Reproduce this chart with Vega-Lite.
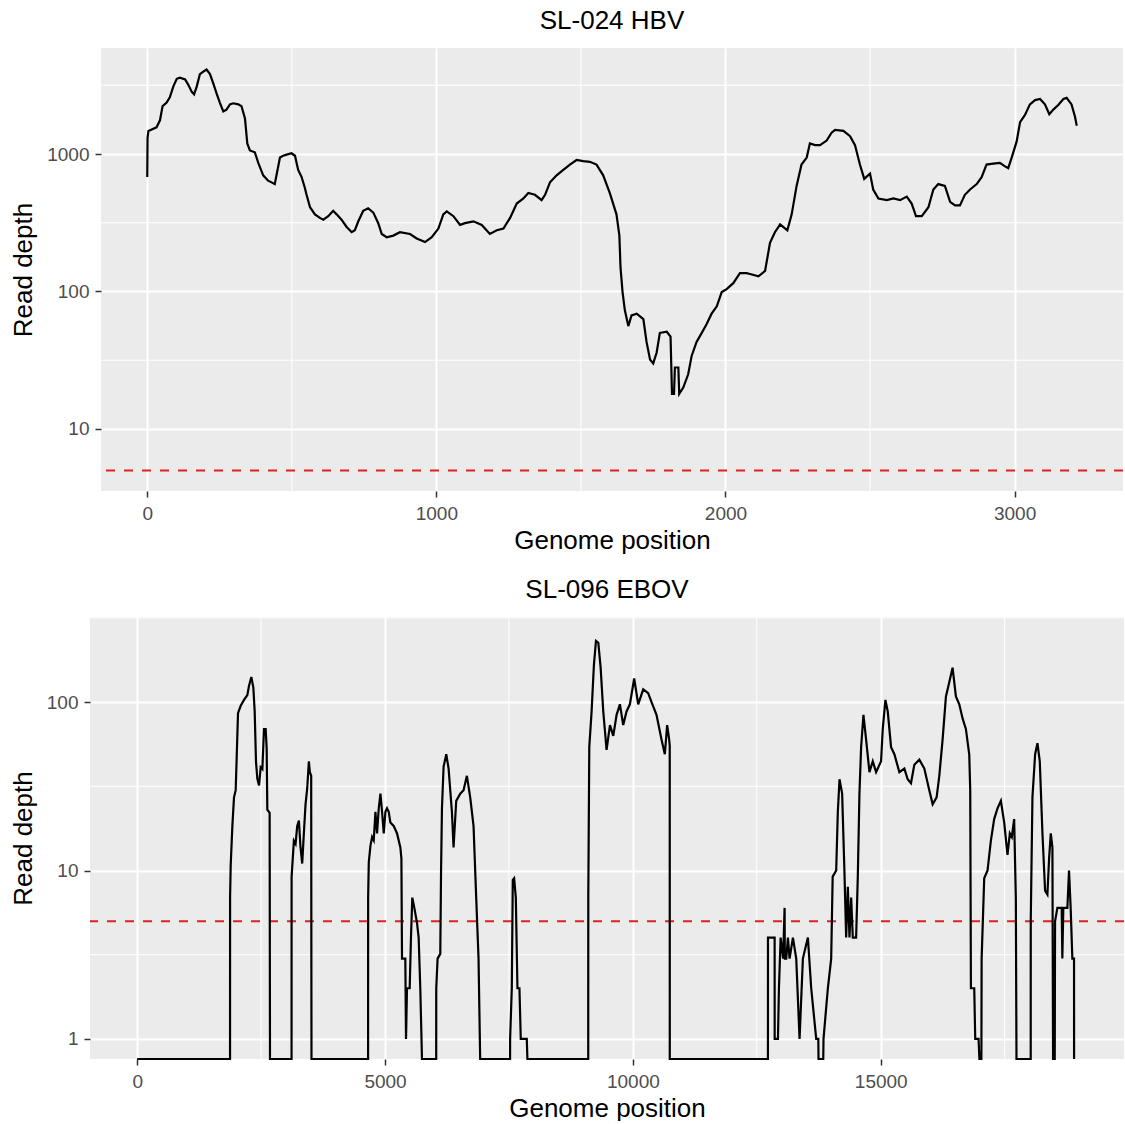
{
  "$schema": "https://vega.github.io/schema/vega-lite/v6.json",
  "padding": {"left": 9, "top": 7, "right": 0, "bottom": 0},
  "background": "#ffffff",
  "spacing": 23,
  "vconcat": [
    {
      "spacing": 0,
      "hconcat": [
        {"width": 1, "height": 1, "data": {"values": []}, "mark": "point"},
        {
          "width": 1022,
          "height": 443,
          "title": {"text": "SL-024 HBV"},
          "view": {"fill": "#ebebeb", "stroke": null},
          "layer": [
            {
              "data": {"values": [{"m": 500}, {"m": 1500}, {"m": 2500}]},
              "mark": {"type": "rule", "color": "#ffffff", "strokeWidth": 1},
              "encoding": {"x": {"field": "m", "type": "quantitative", "scale": {"domain": [-160, 3375], "nice": false, "zero": false}, "axis": {"values": [0, 1000, 2000, 3000], "format": "d", "title": "Genome position"}}}
            },
            {
              "data": {"values": [{"m": 31.62}, {"m": 316.2}, {"m": 3162}]},
              "mark": {"type": "rule", "color": "#ffffff", "strokeWidth": 1},
              "encoding": {"y": {"field": "m", "type": "quantitative", "scale": {"type": "log", "domain": [3.54, 5902], "nice": false, "clamp": true}, "axis": {"values": [10, 100, 1000], "format": "d", "title": "Read depth"}}}
            },
            {
              "data": {"values": [{"threshold": 5}]},
              "mark": {"type": "rule", "color": "#dd2222", "strokeWidth": 2, "strokeDash": [9, 9]},
              "encoding": {"y": {"field": "threshold", "type": "quantitative", "scale": {"type": "log", "domain": [3.54, 5902], "nice": false, "clamp": true}, "axis": {"values": [10, 100, 1000], "format": "d", "title": "Read depth"}}}
            },
            {
              "data": {"values": [
                {"pos": 0, "depth": 680}, {"pos": 1, "depth": 1306}, {"pos": 4, "depth": 1472}, {"pos": 32, "depth": 1563}, {"pos": 44, "depth": 1758}, {"pos": 53, "depth": 2228}, {"pos": 67, "depth": 2366}, {"pos": 78, "depth": 2588}, {"pos": 90, "depth": 3090}, {"pos": 102, "depth": 3524}, {"pos": 113, "depth": 3589}, {"pos": 131, "depth": 3483}, {"pos": 142, "depth": 3184}, {"pos": 154, "depth": 2831}, {"pos": 162, "depth": 2716}, {"pos": 171, "depth": 3090}, {"pos": 182, "depth": 3811}, {"pos": 194, "depth": 3972}, {"pos": 205, "depth": 4111}, {"pos": 217, "depth": 3811}, {"pos": 228, "depth": 3281}, {"pos": 240, "depth": 2748}, {"pos": 251, "depth": 2366}, {"pos": 263, "depth": 2042}, {"pos": 274, "depth": 2104}, {"pos": 286, "depth": 2296}, {"pos": 297, "depth": 2339}, {"pos": 315, "depth": 2296}, {"pos": 326, "depth": 2228}, {"pos": 338, "depth": 1811}, {"pos": 346, "depth": 1194}, {"pos": 355, "depth": 1062}, {"pos": 372, "depth": 1030}, {"pos": 384, "depth": 861}, {"pos": 401, "depth": 700}, {"pos": 418, "depth": 640}, {"pos": 430, "depth": 622}, {"pos": 441, "depth": 604}, {"pos": 447, "depth": 700}, {"pos": 459, "depth": 942}, {"pos": 470, "depth": 971}, {"pos": 482, "depth": 989}, {"pos": 499, "depth": 1012}, {"pos": 511, "depth": 971}, {"pos": 522, "depth": 766}, {"pos": 534, "depth": 679}, {"pos": 545, "depth": 569}, {"pos": 551, "depth": 505}, {"pos": 563, "depth": 410}, {"pos": 580, "depth": 364}, {"pos": 597, "depth": 343}, {"pos": 609, "depth": 333}, {"pos": 626, "depth": 353}, {"pos": 643, "depth": 386}, {"pos": 655, "depth": 364}, {"pos": 672, "depth": 333}, {"pos": 689, "depth": 296}, {"pos": 707, "depth": 270}, {"pos": 718, "depth": 279}, {"pos": 730, "depth": 324}, {"pos": 747, "depth": 386}, {"pos": 764, "depth": 403}, {"pos": 782, "depth": 375}, {"pos": 799, "depth": 314}, {"pos": 811, "depth": 262}, {"pos": 828, "depth": 248}, {"pos": 851, "depth": 255}, {"pos": 874, "depth": 270}, {"pos": 909, "depth": 262}, {"pos": 932, "depth": 243}, {"pos": 961, "depth": 229}, {"pos": 984, "depth": 248}, {"pos": 1007, "depth": 287}, {"pos": 1024, "depth": 364}, {"pos": 1036, "depth": 382}, {"pos": 1059, "depth": 353}, {"pos": 1082, "depth": 305}, {"pos": 1099, "depth": 314}, {"pos": 1128, "depth": 324}, {"pos": 1157, "depth": 305}, {"pos": 1185, "depth": 262}, {"pos": 1209, "depth": 279}, {"pos": 1232, "depth": 287}, {"pos": 1255, "depth": 343}, {"pos": 1278, "depth": 436}, {"pos": 1301, "depth": 475}, {"pos": 1318, "depth": 520}, {"pos": 1341, "depth": 505}, {"pos": 1364, "depth": 462}, {"pos": 1376, "depth": 505}, {"pos": 1393, "depth": 622}, {"pos": 1416, "depth": 700}, {"pos": 1439, "depth": 766}, {"pos": 1462, "depth": 838}, {"pos": 1485, "depth": 904}, {"pos": 1508, "depth": 887}, {"pos": 1531, "depth": 877}, {"pos": 1554, "depth": 838}, {"pos": 1577, "depth": 700}, {"pos": 1600, "depth": 520}, {"pos": 1623, "depth": 364}, {"pos": 1633, "depth": 255}, {"pos": 1637, "depth": 149}, {"pos": 1644, "depth": 99}, {"pos": 1652, "depth": 73}, {"pos": 1664, "depth": 56}, {"pos": 1675, "depth": 67}, {"pos": 1693, "depth": 69}, {"pos": 1716, "depth": 63}, {"pos": 1727, "depth": 43}, {"pos": 1739, "depth": 32}, {"pos": 1750, "depth": 30}, {"pos": 1762, "depth": 36}, {"pos": 1773, "depth": 50}, {"pos": 1797, "depth": 51}, {"pos": 1810, "depth": 47}, {"pos": 1815, "depth": 18}, {"pos": 1822, "depth": 18}, {"pos": 1825, "depth": 28}, {"pos": 1837, "depth": 28}, {"pos": 1840, "depth": 18}, {"pos": 1854, "depth": 20}, {"pos": 1871, "depth": 25}, {"pos": 1883, "depth": 34}, {"pos": 1900, "depth": 43}, {"pos": 1918, "depth": 50}, {"pos": 1935, "depth": 58}, {"pos": 1952, "depth": 69}, {"pos": 1970, "depth": 78}, {"pos": 1987, "depth": 99}, {"pos": 2004, "depth": 104}, {"pos": 2027, "depth": 115}, {"pos": 2050, "depth": 136}, {"pos": 2073, "depth": 136}, {"pos": 2085, "depth": 134}, {"pos": 2114, "depth": 129}, {"pos": 2137, "depth": 141}, {"pos": 2154, "depth": 226}, {"pos": 2171, "depth": 270}, {"pos": 2189, "depth": 308}, {"pos": 2214, "depth": 279}, {"pos": 2229, "depth": 364}, {"pos": 2246, "depth": 586}, {"pos": 2263, "depth": 838}, {"pos": 2281, "depth": 942}, {"pos": 2292, "depth": 1194}, {"pos": 2310, "depth": 1161}, {"pos": 2327, "depth": 1161}, {"pos": 2350, "depth": 1253}, {"pos": 2367, "depth": 1429}, {"pos": 2379, "depth": 1496}, {"pos": 2408, "depth": 1472}, {"pos": 2431, "depth": 1346}, {"pos": 2448, "depth": 1161}, {"pos": 2465, "depth": 838}, {"pos": 2480, "depth": 659}, {"pos": 2500, "depth": 721}, {"pos": 2511, "depth": 552}, {"pos": 2529, "depth": 475}, {"pos": 2558, "depth": 462}, {"pos": 2581, "depth": 475}, {"pos": 2604, "depth": 462}, {"pos": 2627, "depth": 490}, {"pos": 2644, "depth": 436}, {"pos": 2659, "depth": 353}, {"pos": 2679, "depth": 353}, {"pos": 2702, "depth": 410}, {"pos": 2719, "depth": 552}, {"pos": 2736, "depth": 604}, {"pos": 2759, "depth": 586}, {"pos": 2777, "depth": 449}, {"pos": 2794, "depth": 423}, {"pos": 2811, "depth": 423}, {"pos": 2828, "depth": 505}, {"pos": 2846, "depth": 552}, {"pos": 2869, "depth": 604}, {"pos": 2886, "depth": 679}, {"pos": 2903, "depth": 838}, {"pos": 2926, "depth": 851}, {"pos": 2949, "depth": 861}, {"pos": 2967, "depth": 813}, {"pos": 2978, "depth": 789}, {"pos": 2990, "depth": 942}, {"pos": 3007, "depth": 1230}, {"pos": 3019, "depth": 1706}, {"pos": 3036, "depth": 1923}, {"pos": 3053, "depth": 2296}, {"pos": 3071, "depth": 2466}, {"pos": 3088, "depth": 2512}, {"pos": 3105, "depth": 2296}, {"pos": 3120, "depth": 1945}, {"pos": 3134, "depth": 2104}, {"pos": 3151, "depth": 2270}, {"pos": 3169, "depth": 2512}, {"pos": 3180, "depth": 2559}, {"pos": 3197, "depth": 2296}, {"pos": 3209, "depth": 1866}, {"pos": 3215, "depth": 1607}
              ]},
              "mark": {"type": "line", "color": "#000000", "strokeWidth": 2.2},
              "encoding": {
                "x": {"field": "pos", "type": "quantitative", "scale": {"domain": [-160, 3375], "nice": false, "zero": false}, "axis": {"values": [0, 1000, 2000, 3000], "format": "d", "title": "Genome position"}},
                "y": {"field": "depth", "type": "quantitative", "scale": {"type": "log", "domain": [3.54, 5902], "nice": false, "clamp": true}, "axis": {"values": [10, 100, 1000], "format": "d", "title": "Read depth"}}
              }
            }
          ]
        }
      ]
    },
    {
      "spacing": 0,
      "hconcat": [
        {"width": 1, "height": 1, "data": {"values": []}, "mark": "point"},
        {
          "width": 1034,
          "height": 442,
          "title": {"text": "SL-096 EBOV"},
          "view": {"fill": "#ebebeb", "stroke": null},
          "layer": [
            {
              "data": {"values": [{"m": 2500}, {"m": 7500}, {"m": 12500}, {"m": 17500}]},
              "mark": {"type": "rule", "color": "#ffffff", "strokeWidth": 1},
              "encoding": {"x": {"field": "m", "type": "quantitative", "scale": {"domain": [-952, 19907], "nice": false, "zero": false}, "axis": {"values": [0, 5000, 10000, 15000], "format": "d", "title": "Genome position"}}}
            },
            {
              "data": {"values": [{"m": 3.162}, {"m": 31.62}, {"m": 316.2}]},
              "mark": {"type": "rule", "color": "#ffffff", "strokeWidth": 1},
              "encoding": {"y": {"field": "m", "type": "quantitative", "scale": {"type": "log", "domain": [0.7604, 319.9], "nice": false, "clamp": true}, "axis": {"values": [1, 10, 100], "format": "d", "title": "Read depth"}}}
            },
            {
              "data": {"values": [{"threshold": 5}]},
              "mark": {"type": "rule", "color": "#dd2222", "strokeWidth": 2, "strokeDash": [9, 9]},
              "encoding": {"y": {"field": "threshold", "type": "quantitative", "scale": {"type": "log", "domain": [0.7604, 319.9], "nice": false, "clamp": true}, "axis": {"values": [1, 10, 100], "format": "d", "title": "Read depth"}}}
            },
            {
              "data": {"values": [
                {"pos": 0, "depth": 0}, {"pos": 1873, "depth": 0}, {"pos": 1874, "depth": 6.9}, {"pos": 1886, "depth": 10.7}, {"pos": 1920, "depth": 18.4}, {"pos": 1953, "depth": 27.2}, {"pos": 1987, "depth": 30}, {"pos": 2010, "depth": 50}, {"pos": 2034, "depth": 86}, {"pos": 2088, "depth": 95}, {"pos": 2155, "depth": 103}, {"pos": 2222, "depth": 110}, {"pos": 2256, "depth": 125}, {"pos": 2303, "depth": 141}, {"pos": 2343, "depth": 122}, {"pos": 2370, "depth": 88}, {"pos": 2397, "depth": 44}, {"pos": 2424, "depth": 35}, {"pos": 2458, "depth": 32}, {"pos": 2491, "depth": 41}, {"pos": 2525, "depth": 40}, {"pos": 2558, "depth": 69}, {"pos": 2592, "depth": 69}, {"pos": 2612, "depth": 53}, {"pos": 2625, "depth": 23}, {"pos": 2672, "depth": 22}, {"pos": 2679, "depth": 0},
                {"pos": 3114, "depth": 0}, {"pos": 3115, "depth": 9.2}, {"pos": 3161, "depth": 15}, {"pos": 3195, "depth": 14.4}, {"pos": 3228, "depth": 18.4}, {"pos": 3262, "depth": 19.8}, {"pos": 3295, "depth": 13.7}, {"pos": 3329, "depth": 11}, {"pos": 3362, "depth": 16.6}, {"pos": 3396, "depth": 24.7}, {"pos": 3430, "depth": 30.8}, {"pos": 3463, "depth": 44.5}, {"pos": 3483, "depth": 38.4}, {"pos": 3510, "depth": 36.5}, {"pos": 3516, "depth": 0},
                {"pos": 4658, "depth": 0}, {"pos": 4659, "depth": 6.9}, {"pos": 4672, "depth": 11.2}, {"pos": 4705, "depth": 14}, {"pos": 4739, "depth": 15.8}, {"pos": 4772, "depth": 15.1}, {"pos": 4806, "depth": 22.3}, {"pos": 4839, "depth": 16.6}, {"pos": 4873, "depth": 23.4}, {"pos": 4907, "depth": 28.6}, {"pos": 4940, "depth": 22.3}, {"pos": 4974, "depth": 16.6}, {"pos": 5007, "depth": 22.3}, {"pos": 5040, "depth": 23.4}, {"pos": 5074, "depth": 22.3}, {"pos": 5107, "depth": 19.3}, {"pos": 5174, "depth": 18.4}, {"pos": 5242, "depth": 16.6}, {"pos": 5309, "depth": 13.7}, {"pos": 5330, "depth": 11.8}, {"pos": 5342, "depth": 3}, {"pos": 5409, "depth": 3}, {"pos": 5423, "depth": 1}, {"pos": 5443, "depth": 2}, {"pos": 5497, "depth": 2}, {"pos": 5523, "depth": 4}, {"pos": 5550, "depth": 6.9}, {"pos": 5591, "depth": 6}, {"pos": 5644, "depth": 4.9}, {"pos": 5678, "depth": 4}, {"pos": 5711, "depth": 2}, {"pos": 5745, "depth": 0},
                {"pos": 6032, "depth": 0}, {"pos": 6033, "depth": 2}, {"pos": 6060, "depth": 3}, {"pos": 6114, "depth": 3.2}, {"pos": 6130, "depth": 10}, {"pos": 6148, "depth": 23.4}, {"pos": 6181, "depth": 41.3}, {"pos": 6235, "depth": 49}, {"pos": 6282, "depth": 40.3}, {"pos": 6349, "depth": 22.3}, {"pos": 6382, "depth": 13.7}, {"pos": 6436, "depth": 25.9}, {"pos": 6517, "depth": 28.6}, {"pos": 6584, "depth": 30}, {"pos": 6651, "depth": 36.5}, {"pos": 6718, "depth": 27.2}, {"pos": 6785, "depth": 18.4}, {"pos": 6839, "depth": 6.9}, {"pos": 6886, "depth": 3}, {"pos": 6919, "depth": 0},
                {"pos": 7522, "depth": 0}, {"pos": 7523, "depth": 1}, {"pos": 7557, "depth": 2}, {"pos": 7577, "depth": 8.8}, {"pos": 7604, "depth": 9}, {"pos": 7638, "depth": 6.9}, {"pos": 7671, "depth": 2}, {"pos": 7711, "depth": 2}, {"pos": 7738, "depth": 1}, {"pos": 7859, "depth": 1}, {"pos": 7872, "depth": 0},
                {"pos": 9099, "depth": 0}, {"pos": 9100, "depth": 6.9}, {"pos": 9120, "depth": 54}, {"pos": 9167, "depth": 88}, {"pos": 9214, "depth": 167}, {"pos": 9255, "depth": 231}, {"pos": 9302, "depth": 225}, {"pos": 9349, "depth": 160}, {"pos": 9402, "depth": 88}, {"pos": 9469, "depth": 52}, {"pos": 9537, "depth": 73}, {"pos": 9604, "depth": 63}, {"pos": 9671, "depth": 84}, {"pos": 9738, "depth": 97}, {"pos": 9805, "depth": 73}, {"pos": 9872, "depth": 88}, {"pos": 9939, "depth": 97}, {"pos": 10026, "depth": 138}, {"pos": 10107, "depth": 97}, {"pos": 10208, "depth": 119}, {"pos": 10308, "depth": 113}, {"pos": 10376, "depth": 100}, {"pos": 10476, "depth": 84}, {"pos": 10577, "depth": 60}, {"pos": 10644, "depth": 49}, {"pos": 10691, "depth": 73}, {"pos": 10731, "depth": 60}, {"pos": 10743, "depth": 55}, {"pos": 10744, "depth": 0},
                {"pos": 12724, "depth": 0}, {"pos": 12725, "depth": 4}, {"pos": 12859, "depth": 4}, {"pos": 12860, "depth": 1}, {"pos": 12926, "depth": 1}, {"pos": 12946, "depth": 2}, {"pos": 12980, "depth": 4}, {"pos": 13030, "depth": 3}, {"pos": 13060, "depth": 6}, {"pos": 13065, "depth": 3}, {"pos": 13094, "depth": 3}, {"pos": 13127, "depth": 4}, {"pos": 13161, "depth": 3}, {"pos": 13228, "depth": 4}, {"pos": 13295, "depth": 3}, {"pos": 13362, "depth": 1}, {"pos": 13429, "depth": 3}, {"pos": 13530, "depth": 4}, {"pos": 13597, "depth": 2}, {"pos": 13698, "depth": 1}, {"pos": 13740, "depth": 1}, {"pos": 13745, "depth": 0}, {"pos": 13840, "depth": 0}, {"pos": 13845, "depth": 1}, {"pos": 13933, "depth": 2}, {"pos": 14000, "depth": 3}, {"pos": 14030, "depth": 9.2}, {"pos": 14101, "depth": 10}, {"pos": 14134, "depth": 22.3}, {"pos": 14168, "depth": 34.8}, {"pos": 14221, "depth": 28.6}, {"pos": 14268, "depth": 9.7}, {"pos": 14302, "depth": 4}, {"pos": 14336, "depth": 8}, {"pos": 14369, "depth": 4}, {"pos": 14403, "depth": 6.9}, {"pos": 14436, "depth": 4}, {"pos": 14503, "depth": 4}, {"pos": 14537, "depth": 9.2}, {"pos": 14570, "depth": 28.6}, {"pos": 14604, "depth": 54}, {"pos": 14651, "depth": 84}, {"pos": 14704, "depth": 60}, {"pos": 14772, "depth": 38.4}, {"pos": 14839, "depth": 44.5}, {"pos": 14906, "depth": 38.4}, {"pos": 15006, "depth": 44.5}, {"pos": 15040, "depth": 69}, {"pos": 15094, "depth": 103}, {"pos": 15141, "depth": 88}, {"pos": 15208, "depth": 54}, {"pos": 15275, "depth": 49}, {"pos": 15375, "depth": 38.4}, {"pos": 15476, "depth": 40.3}, {"pos": 15543, "depth": 34.8}, {"pos": 15610, "depth": 33}, {"pos": 15677, "depth": 42.4}, {"pos": 15778, "depth": 45.5}, {"pos": 15879, "depth": 40.3}, {"pos": 15979, "depth": 30}, {"pos": 16047, "depth": 24.7}, {"pos": 16127, "depth": 27.2}, {"pos": 16181, "depth": 36.5}, {"pos": 16248, "depth": 60}, {"pos": 16315, "depth": 108}, {"pos": 16382, "depth": 131}, {"pos": 16449, "depth": 160}, {"pos": 16516, "depth": 108}, {"pos": 16584, "depth": 97}, {"pos": 16651, "depth": 80}, {"pos": 16718, "depth": 69}, {"pos": 16785, "depth": 49}, {"pos": 16805, "depth": 30}, {"pos": 16819, "depth": 2}, {"pos": 16886, "depth": 2}, {"pos": 16906, "depth": 1}, {"pos": 16973, "depth": 1}, {"pos": 16990, "depth": 0}, {"pos": 17030, "depth": 0}, {"pos": 17035, "depth": 3}, {"pos": 17087, "depth": 9}, {"pos": 17154, "depth": 10}, {"pos": 17221, "depth": 15}, {"pos": 17288, "depth": 20.2}, {"pos": 17355, "depth": 23.4}, {"pos": 17423, "depth": 25.9}, {"pos": 17490, "depth": 19.3}, {"pos": 17557, "depth": 12.4}, {"pos": 17604, "depth": 16.6}, {"pos": 17644, "depth": 15.8}, {"pos": 17691, "depth": 20.2}, {"pos": 17725, "depth": 6.9}, {"pos": 17738, "depth": 0},
                {"pos": 18025, "depth": 0}, {"pos": 18026, "depth": 5.1}, {"pos": 18060, "depth": 27.2}, {"pos": 18114, "depth": 49}, {"pos": 18161, "depth": 57}, {"pos": 18208, "depth": 44.5}, {"pos": 18262, "depth": 16.6}, {"pos": 18315, "depth": 7.6}, {"pos": 18362, "depth": 7.2}, {"pos": 18396, "depth": 11.8}, {"pos": 18430, "depth": 16.6}, {"pos": 18463, "depth": 13.7}, {"pos": 18476, "depth": 0}, {"pos": 18510, "depth": 0}, {"pos": 18516, "depth": 5}, {"pos": 18563, "depth": 6}, {"pos": 18650, "depth": 6}, {"pos": 18663, "depth": 3}, {"pos": 18683, "depth": 6}, {"pos": 18765, "depth": 6}, {"pos": 18798, "depth": 10}, {"pos": 18831, "depth": 6}, {"pos": 18865, "depth": 3}, {"pos": 18899, "depth": 3}, {"pos": 18900, "depth": 0}
              ]},
              "mark": {"type": "line", "color": "#000000", "strokeWidth": 2.2, "invalid": "show"},
              "encoding": {
                "x": {"field": "pos", "type": "quantitative", "scale": {"domain": [-952, 19907], "nice": false, "zero": false}, "axis": {"values": [0, 5000, 10000, 15000], "format": "d", "title": "Genome position"}},
                "y": {"field": "depth", "type": "quantitative", "scale": {"type": "log", "domain": [0.7604, 319.9], "nice": false, "clamp": true}, "axis": {"values": [1, 10, 100], "format": "d", "title": "Read depth"}}
              }
            }
          ]
        }
      ]
    }
  ],
  "config": {
    "view": {"stroke": null},
    "font": "Liberation Sans",
    "axis": {
      "domain": false,
      "grid": true,
      "gridColor": "#ffffff",
      "gridWidth": 2,
      "tickColor": "#333333",
      "tickWidth": 1.5,
      "tickSize": 6,
      "labelColor": "#4d4d4d",
      "labelFont": "Liberation Sans",
      "labelFontSize": 19,
      "labelPadding": 6,
      "labelFlush": false,
      "titleFont": "Liberation Sans",
      "titleFontSize": 26,
      "titleFontWeight": "normal",
      "titleColor": "#000000"
    },
    "axisX": {"titlePadding": 4, "labelPadding": 7},
    "axisY": {"titlePadding": 10},
    "title": {
      "font": "Liberation Sans",
      "fontSize": 26,
      "fontWeight": "normal",
      "color": "#000000",
      "anchor": "middle",
      "frame": "group",
      "baseline": "alphabetic",
      "offset": 14
    }
  }
}
